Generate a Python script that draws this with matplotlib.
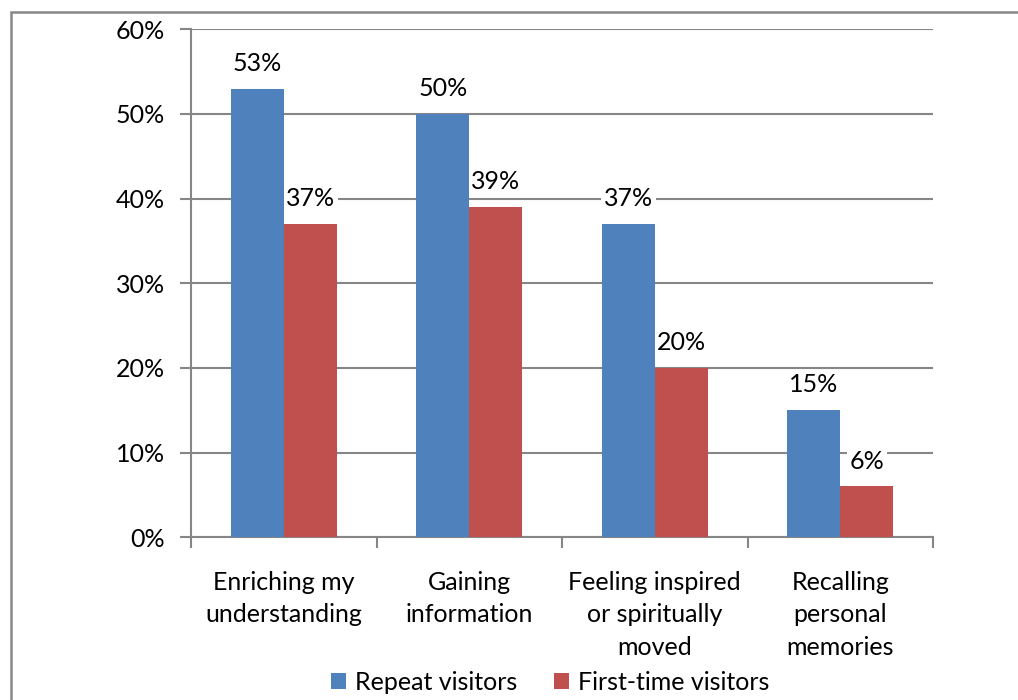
import matplotlib
matplotlib.use('Agg')
import matplotlib.pyplot as plt
from matplotlib.patches import Rectangle
import numpy as np

plt.rcParams['font.family'] = ['Lato', 'DejaVu Sans']

categories = ['Enriching my\nunderstanding', 'Gaining\ninformation',
              'Feeling inspired\nor spiritually\nmoved', 'Recalling\npersonal\nmemories']
repeat = [53, 50, 37, 15]
first_time = [37, 39, 20, 6]
series_names = ['Repeat visitors', 'First-time visitors']
blue = '#4F81BD'
red = '#C0504D'
grid_c = '#868686'
fs = 18

fig = plt.figure(figsize=(10.18, 7.0), dpi=100)
ax = fig.add_axes([191/1018, 1-537.3/700, (933-191)/1018, (537.3-29.3)/700])

x = np.arange(len(categories))
w = 0.286
b1 = ax.bar(x - w/2, repeat, w, color=blue, label=series_names[0], zorder=3)
b2 = ax.bar(x + w/2, first_time, w, color=red, label=series_names[1], zorder=3)

# labels sit under the bars but over the grid (white box hides gridline)
for bars, vals in [(b1, repeat), (b2, first_time)]:
	for b, v in zip(bars, vals):
		ax.annotate('%d%%' % v, (b.get_x() + b.get_width()/2, v), xytext=(0, 10),
			textcoords='offset points', ha='center', va='bottom', fontsize=fs,
			bbox=dict(facecolor='white', edgecolor='none', pad=2), zorder=2)

ax.set_xlim(-0.5, len(categories) - 0.5)
ax.set_ylim(0, 60)
ax.set_yticks(range(0, 61, 10))
ax.set_yticklabels(['%d%%' % t for t in range(0, 61, 10)], fontsize=fs)
ax.yaxis.grid(True, color=grid_c, linewidth=1.5, zorder=0)
ax.set_axisbelow(True)

ax.set_xticks(np.arange(-0.5, len(categories), 1.0))
ax.set_xticklabels([])
ax.set_xticks(x, minor=True)
ax.set_xticklabels(categories, minor=True, fontsize=fs, linespacing=1.5)
ax.tick_params(axis='x', which='minor', length=0, pad=24)
ax.tick_params(axis='x', which='major', length=8, width=1.5, color=grid_c)
ax.tick_params(axis='y', length=8, width=1.5, color=grid_c, pad=11)

for s in ['top', 'right']:
	ax.spines[s].set_visible(False)
for s in ['left', 'bottom']:
	ax.spines[s].set_color(grid_c)
	ax.spines[s].set_linewidth(1.5)

fig.legend(handles=[b1, b2], labels=series_names, loc='center', ncol=2,
	bbox_to_anchor=(550/1018, 1-682/700), frameon=False, fontsize=fs,
	handlelength=0.62, handleheight=0.62, handletextpad=0.35, columnspacing=1.45)

fig.patches.append(Rectangle((11/1018, -0.1), 1.2, 1.1 - 12/700, transform=fig.transFigure,
	fill=False, edgecolor='#888888', linewidth=1.8, figure=fig))

plt.savefig('out.png', dpi=100)
